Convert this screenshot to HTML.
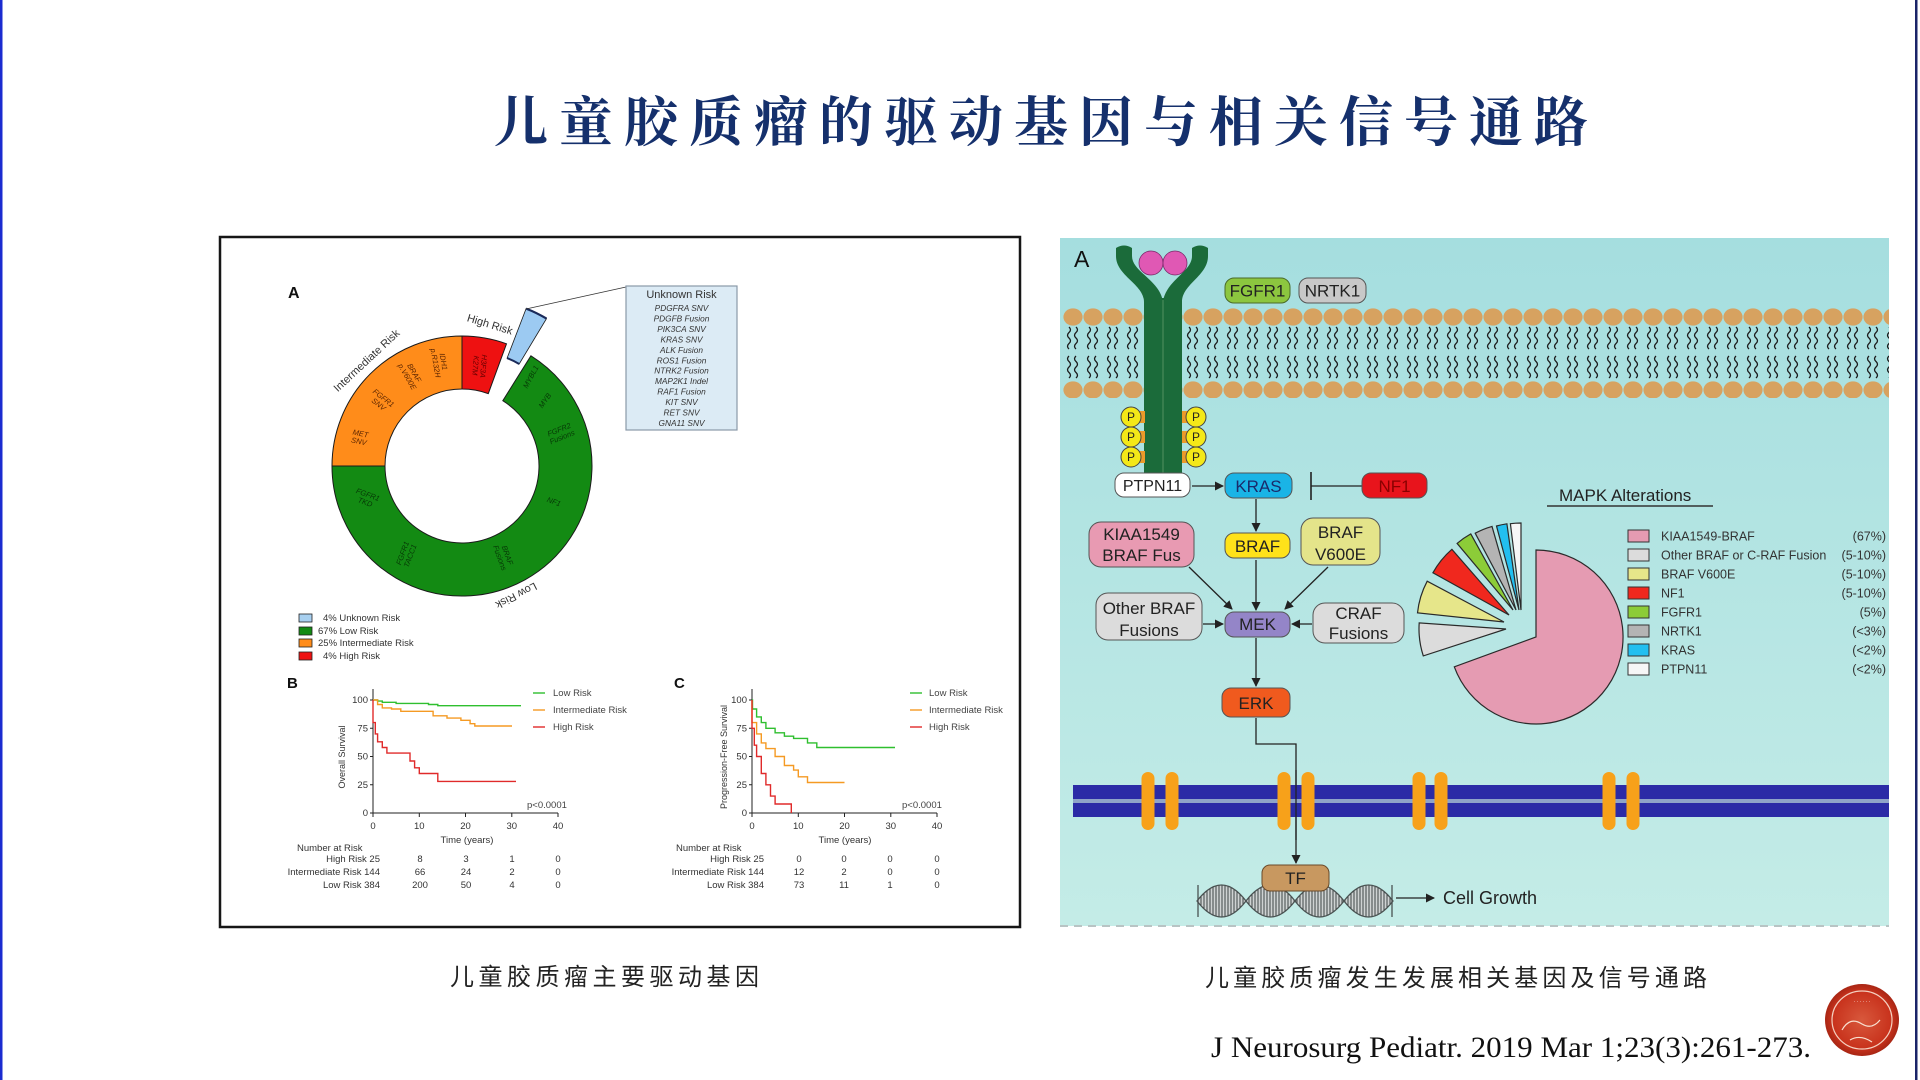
<!DOCTYPE html>
<html>
<head>
<meta charset="utf-8">
<style>
html,body{margin:0;padding:0;background:#fff;}
body{width:1920px;height:1080px;overflow:hidden;position:relative;}
svg{position:absolute;left:0;top:0;}
</style>
</head>
<body>
<svg width="1920" height="1080" viewBox="0 0 1920 1080" xmlns="http://www.w3.org/2000/svg" font-family="'Liberation Sans', Arial, sans-serif">
<defs>
  <linearGradient id="bg" x1="0" y1="0" x2="0" y2="1">
    <stop offset="0" stop-color="#a5dedf"/>
    <stop offset="1" stop-color="#c4ece7"/>
  </linearGradient>
  <marker id="ah" markerWidth="9" markerHeight="9" refX="8" refY="4.5" orient="auto" markerUnits="userSpaceOnUse">
    <path d="M0,0 L9,4.5 L0,9 Z" fill="#222"/>
  </marker>
  <pattern id="mem" x="1063" y="308" width="20" height="90" patternUnits="userSpaceOnUse">
    <path d="M6,19 q3,2.75 0,5.5 q-3,2.75 0,5.5 q3,2.75 0,5.5 q-3,2.75 0,5.5 M13,19 q3,2.75 0,5.5 q-3,2.75 0,5.5 q3,2.75 0,5.5 q-3,2.75 0,5.5 M6,48 q-3,2.75 0,5.5 q3,2.75 0,5.5 q-3,2.75 0,5.5 q3,2.75 0,5.5 M13,48 q-3,2.75 0,5.5 q3,2.75 0,5.5 q-3,2.75 0,5.5 q3,2.75 0,5.5" stroke="#1a1a1a" stroke-width="1.3" fill="none"/>
    <ellipse cx="10" cy="9" rx="9.6" ry="8.6" fill="#d7a260"/>
    <ellipse cx="10" cy="82" rx="9.6" ry="8.6" fill="#d7a260"/>
  </pattern>
  <pattern id="hatch" x="0" y="0" width="3" height="10" patternUnits="userSpaceOnUse">
    <rect width="3" height="10" fill="#cfd3d3"/>
    <line x1="1" y1="0" x2="1" y2="10" stroke="#3c4444" stroke-width="1"/>
  </pattern>
  <radialGradient id="seal" cx="0.5" cy="0.5" r="0.5">
    <stop offset="0" stop-color="#d8583c"/>
    <stop offset="0.8" stop-color="#c8321c"/>
    <stop offset="1" stop-color="#a82614"/>
  </radialGradient>
</defs>

<!-- page edges -->
<rect x="0" y="0" width="2.5" height="1080" fill="#1b2bd0"/>
<rect x="1915" y="0" width="2.5" height="1080" fill="#1a2468"/>

<!-- Title -->
<text x="1041" y="141" text-anchor="middle" font-family="'Liberation Serif','Noto Serif CJK SC',serif" font-weight="700" font-size="54" fill="#15306c" textLength="1094" lengthAdjust="spacing">儿童胶质瘤的驱动基因与相关信号通路</text>

<!-- ================= LEFT PANEL ================= -->
<rect x="220" y="237" width="800" height="690" fill="#fff" stroke="#161616" stroke-width="2.5"/>
<text x="288" y="298" font-size="16" font-weight="700" fill="#111">A</text>

<!-- donut -->
<g stroke="#1a1a1a" stroke-width="1">
  <path d="M332,466 A130,130 0 0 1 462,336 L462,389 A77,77 0 0 0 385,466 Z" fill="#ff8c1a"/>
  <path d="M462,336 A130,130 0 0 1 506.5,343.8 L488.3,393.6 A77,77 0 0 0 462,389 Z" fill="#ee1111"/>
  <path d="M530.9,355.8 A130,130 0 1 1 332,466 L385,466 A77,77 0 1 0 502.8,400.7 Z" fill="#138a13"/>
  <path d="M526.1,308.6 A130,130 0 0 1 546.5,318.6 L519.2,364 A77,77 0 0 0 507.1,358.1 Z" fill="#9ccaf2" stroke-width="0.8"/>
</g>
<path d="M526.1,308.6 A130,130 0 0 1 546.5,318.6" stroke="#1a2a5a" stroke-width="2.2" fill="none"/>
<path d="M519.2,364 A77,77 0 0 0 507.1,358.1" stroke="#1a2a5a" stroke-width="2" fill="none"/>
<line x1="526" y1="309" x2="626" y2="287" stroke="#333" stroke-width="0.8"/>

<!-- donut outside labels -->
<text x="367" y="364" font-size="11" fill="#333" text-anchor="middle" transform="rotate(-43 367 361)">Intermediate Risk</text>
<text x="490" y="328" font-size="11" fill="#333" text-anchor="middle" transform="rotate(17 490 324)">High Risk</text>
<text x="516" y="598" font-size="11" fill="#333" text-anchor="middle" transform="rotate(153 516 595)">Low Risk</text>

<!-- segment labels -->
<g font-size="7.5" text-anchor="middle" font-style="italic">
  <text transform="translate(360,436) rotate(12)" fill="#5a2400"><tspan x="0" y="0">MET</tspan><tspan x="0" y="8">SNV</tspan></text>
  <text transform="translate(382,400) rotate(38)" fill="#5a2400"><tspan x="0" y="0">FGFR1</tspan><tspan x="0" y="8">SNV</tspan></text>
  <text transform="translate(412,374) rotate(60)" fill="#5a2400"><tspan x="0" y="0">BRAF</tspan><tspan x="0" y="8">p.V600E</tspan></text>
  <text transform="translate(441,362) rotate(80)" fill="#5a2400"><tspan x="0" y="0">IDH1</tspan><tspan x="0" y="8">p.R132H</tspan></text>
  <text transform="translate(481,366) rotate(95)" fill="#600"><tspan x="0" y="0">H3F3A</tspan><tspan x="0" y="8">K27M</tspan></text>
  <text transform="translate(533,378) rotate(-62)" fill="#063806">MYBL1</text>
  <text transform="translate(547,402) rotate(-55)" fill="#063806">MYB</text>
  <text transform="translate(560,432) rotate(-22)" fill="#063806"><tspan x="0" y="0">FGFR2</tspan><tspan x="0" y="8">Fusions</tspan></text>
  <text transform="translate(553,504) rotate(20)" fill="#063806">NF1</text>
  <text transform="translate(505,556) rotate(70)" fill="#063806"><tspan x="0" y="0">BRAF</tspan><tspan x="0" y="8">Fusions</tspan></text>
  <text transform="translate(405,554) rotate(-70)" fill="#063806"><tspan x="0" y="0">FGFR1</tspan><tspan x="0" y="8">TACC1</tspan></text>
  <text transform="translate(367,497) rotate(20)" fill="#063806"><tspan x="0" y="0">FGFR1</tspan><tspan x="0" y="8">TKD</tspan></text>
</g>

<!-- Unknown Risk box -->
<rect x="626" y="286" width="111" height="144" fill="#dcebf5" stroke="#8a99a8" stroke-width="1.2"/>
<text x="681.5" y="298" font-size="11" text-anchor="middle" fill="#333">Unknown Risk</text>
<g font-size="8.3" font-style="italic" text-anchor="middle" fill="#333">
  <text x="681.5" y="311">PDGFRA SNV</text>
  <text x="681.5" y="321.5">PDGFB Fusion</text>
  <text x="681.5" y="332">PIK3CA SNV</text>
  <text x="681.5" y="342.4">KRAS SNV</text>
  <text x="681.5" y="352.8">ALK Fusion</text>
  <text x="681.5" y="363.3">ROS1 Fusion</text>
  <text x="681.5" y="373.7">NTRK2 Fusion</text>
  <text x="681.5" y="384.2">MAP2K1 Indel</text>
  <text x="681.5" y="394.6">RAF1 Fusion</text>
  <text x="681.5" y="405">KIT SNV</text>
  <text x="681.5" y="415.5">RET SNV</text>
  <text x="681.5" y="426">GNA11 SNV</text>
</g>

<!-- donut legend -->
<g stroke="#222" stroke-width="0.8">
  <rect x="299" y="614" width="13" height="8" fill="#a8d0f0"/>
  <rect x="299" y="627" width="13" height="8" fill="#138a13"/>
  <rect x="299" y="639" width="13" height="8" fill="#ff8c1a"/>
  <rect x="299" y="652" width="13" height="8" fill="#ee1111"/>
</g>
<g font-size="9.5" fill="#333">
  <text x="323" y="621">4% Unknown Risk</text>
  <text x="318" y="634">67% Low Risk</text>
  <text x="318" y="646">25% Intermediate Risk</text>
  <text x="323" y="659">4% High Risk</text>
</g>

<!-- ===== Plot B ===== -->
<text x="287" y="688" font-size="15" font-weight="700" fill="#111">B</text>
<g stroke="#222" stroke-width="1" fill="none">
  <path d="M373,689 V813 H558"/>
  <path d="M370,700 H373 M370,728.3 H373 M370,756.5 H373 M370,784.8 H373 M370,813 H373"/>
  <path d="M373,813 V817 M419.3,813 V817 M465.5,813 V817 M511.8,813 V817 M558,813 V817"/>
</g>
<g font-size="9.5" fill="#333" text-anchor="end">
  <text x="368" y="703">100</text><text x="368" y="731.5">75</text><text x="368" y="759.5">50</text><text x="368" y="788">25</text><text x="368" y="816">0</text>
</g>
<g font-size="9.5" fill="#333" text-anchor="middle">
  <text x="373" y="829">0</text><text x="419.3" y="829">10</text><text x="465.5" y="829">20</text><text x="511.8" y="829">30</text><text x="558" y="829">40</text>
  <text x="467" y="843">Time (years)</text>
</g>
<text x="0" y="0" font-size="9" fill="#333" text-anchor="middle" transform="translate(345,757) rotate(-90)">Overall Survival</text>
<g fill="none" stroke-width="1.4">
  <path d="M373,700 H377.6 V701.1 H382.3 V702.3 H396.1 V703.4 H428.5 V704.5 H437.8 V705.7 H521" stroke="#2fbf2f"/>
  <path d="M373,700 H377.6 V704.5 H382.3 V707.9 H391.5 V709 H400.8 V711.3 H433.1 V715.8 H447 V718.1 H460.9 V720.3 H470.1 V723.7 H474.8 V726 H512" stroke="#f59a23"/>
  <path d="M373,700 V722.6 H375.3 V733.9 H377.6 V741.8 H382.3 V747.5 H386.9 V753.1 H410 V761 H414.6 V767.8 H419.3 V773.5 H437.8 V781.4 H516" stroke="#e02a2a"/>
</g>
<g stroke-width="1.4">
  <line x1="533" y1="693" x2="545" y2="693" stroke="#2fbf2f"/>
  <line x1="533" y1="710" x2="545" y2="710" stroke="#f59a23"/>
  <line x1="533" y1="727" x2="545" y2="727" stroke="#e02a2a"/>
</g>
<g font-size="9.5" fill="#444">
  <text x="553" y="696">Low Risk</text>
  <text x="553" y="713">Intermediate Risk</text>
  <text x="553" y="730">High Risk</text>
  <text x="527" y="808">p&lt;0.0001</text>
</g>
<g font-size="9.5" fill="#333">
  <text x="297" y="851">Number at Risk</text>
  <text x="380" y="862" text-anchor="end">High Risk 25</text>
  <text x="380" y="875" text-anchor="end">Intermediate Risk 144</text>
  <text x="380" y="888" text-anchor="end">Low Risk 384</text>
</g>
<g font-size="9.5" fill="#333" text-anchor="middle">
  <text x="420" y="862">8</text><text x="466" y="862">3</text><text x="512" y="862">1</text><text x="558" y="862">0</text>
  <text x="420" y="875">66</text><text x="466" y="875">24</text><text x="512" y="875">2</text><text x="558" y="875">0</text>
  <text x="420" y="888">200</text><text x="466" y="888">50</text><text x="512" y="888">4</text><text x="558" y="888">0</text>
</g>

<!-- ===== Plot C ===== -->
<text x="674" y="688" font-size="15" font-weight="700" fill="#111">C</text>
<g stroke="#222" stroke-width="1" fill="none">
  <path d="M752,689 V813 H937"/>
  <path d="M749,700 H752 M749,728.3 H752 M749,756.5 H752 M749,784.8 H752 M749,813 H752"/>
  <path d="M752,813 V817 M798.3,813 V817 M844.5,813 V817 M890.8,813 V817 M937,813 V817"/>
</g>
<g font-size="9.5" fill="#333" text-anchor="end">
  <text x="747" y="703">100</text><text x="747" y="731.5">75</text><text x="747" y="759.5">50</text><text x="747" y="788">25</text><text x="747" y="816">0</text>
</g>
<g font-size="9.5" fill="#333" text-anchor="middle">
  <text x="752" y="829">0</text><text x="798.3" y="829">10</text><text x="844.5" y="829">20</text><text x="890.8" y="829">30</text><text x="937" y="829">40</text>
  <text x="845" y="843">Time (years)</text>
</g>
<text x="0" y="0" font-size="9" fill="#333" text-anchor="middle" transform="translate(727,757) rotate(-90)">Progression-Free Survival</text>
<g fill="none" stroke-width="1.4">
  <path d="M752,700 H752.5 V709 H756.6 V716.9 H761.3 V722.6 H765.9 V728.3 H775.1 V732.8 H784.4 V736.2 H793.6 V738.4 H807.5 V742.9 H816.8 V747.5 H895" stroke="#2fbf2f"/>
  <path d="M752,700 V722.6 H756.6 V733.9 H761.3 V742.9 H765.9 V748.6 H775.1 V756.5 H784.4 V765.5 H793.6 V770.1 H798.3 V776.8 H807.5 V782.5 H844.5" stroke="#f59a23"/>
  <path d="M752,700 V728.3 H754.3 V745.2 H756.6 V756.5 H761.3 V773.5 H765.9 V784.8 H770.5 V796.1 H775.1 V804 H791.3 V813" stroke="#e02a2a"/>
</g>
<g stroke-width="1.4">
  <line x1="910" y1="693" x2="922" y2="693" stroke="#2fbf2f"/>
  <line x1="910" y1="710" x2="922" y2="710" stroke="#f59a23"/>
  <line x1="910" y1="727" x2="922" y2="727" stroke="#e02a2a"/>
</g>
<g font-size="9.5" fill="#444">
  <text x="929" y="696">Low Risk</text>
  <text x="929" y="713">Intermediate Risk</text>
  <text x="929" y="730">High Risk</text>
  <text x="902" y="808">p&lt;0.0001</text>
</g>
<g font-size="9.5" fill="#333">
  <text x="676" y="851">Number at Risk</text>
  <text x="764" y="862" text-anchor="end">High Risk 25</text>
  <text x="764" y="875" text-anchor="end">Intermediate Risk 144</text>
  <text x="764" y="888" text-anchor="end">Low Risk 384</text>
</g>
<g font-size="9.5" fill="#333" text-anchor="middle">
  <text x="799" y="862">0</text><text x="844" y="862">0</text><text x="890" y="862">0</text><text x="937" y="862">0</text>
  <text x="799" y="875">12</text><text x="844" y="875">2</text><text x="890" y="875">0</text><text x="937" y="875">0</text>
  <text x="799" y="888">73</text><text x="844" y="888">11</text><text x="890" y="888">1</text><text x="937" y="888">0</text>
</g>

<!-- caption left -->
<text x="450" y="985" font-family="'Liberation Sans','Noto Sans CJK SC',sans-serif" font-size="24" fill="#222" textLength="309" lengthAdjust="spacing">儿童胶质瘤主要驱动基因</text>

<!-- ================= RIGHT PANEL ================= -->
<rect x="1060" y="238" width="829" height="688" fill="url(#bg)"/>
<line x1="1060" y1="926" x2="1889" y2="926" stroke="#b8c4c4" stroke-width="2" stroke-dasharray="8,6"/>
<text x="1074" y="267" font-size="23" fill="#111">A</text>

<!-- membrane -->
<rect x="1063" y="308" width="826" height="90" fill="url(#mem)"/>

<!-- receptor -->
<g fill="#1b6b3a">
  <rect x="1144" y="298" width="38" height="178"/>
  <path d="M1144,302 C1144,284 1116,276 1116,256 L1116,248 Q1124,243 1132,248 L1132,256 C1132,272 1160,280 1163,302 Z"/>
  <path d="M1182,302 C1182,284 1208,276 1208,256 L1208,248 Q1200,243 1192,248 L1192,256 C1192,272 1166,280 1163,302 Z"/>
</g>
<line x1="1163" y1="300" x2="1163" y2="476" stroke="#4a8a5a" stroke-width="1.2"/>
<circle cx="1151" cy="263" r="12" fill="#e058b4" stroke="#7a2a6a" stroke-width="0.8"/>
<circle cx="1175" cy="263" r="12" fill="#e058b4" stroke="#7a2a6a" stroke-width="0.8"/>

<!-- phosphates -->
<g fill="#eb9a2a">
  <rect x="1139" y="411" width="6" height="12"/><rect x="1139" y="431" width="6" height="12"/><rect x="1139" y="451" width="6" height="12"/>
  <rect x="1182" y="411" width="6" height="12"/><rect x="1182" y="431" width="6" height="12"/><rect x="1182" y="451" width="6" height="12"/>
</g>
<g fill="#f4e818" stroke="#444" stroke-width="1">
  <circle cx="1131" cy="417" r="10"/><circle cx="1131" cy="437" r="10"/><circle cx="1131" cy="457" r="10"/>
  <circle cx="1196" cy="417" r="10"/><circle cx="1196" cy="437" r="10"/><circle cx="1196" cy="457" r="10"/>
</g>
<g font-size="12" fill="#222" text-anchor="middle">
  <text x="1131" y="421">P</text><text x="1131" y="441">P</text><text x="1131" y="461">P</text>
  <text x="1196" y="421">P</text><text x="1196" y="441">P</text><text x="1196" y="461">P</text>
</g>

<!-- FGFR1 / NRTK1 -->
<rect x="1225" y="278" width="65" height="25" rx="9" fill="#8cc63f" stroke="#4a6a2a"/>
<rect x="1299" y="278" width="67" height="25" rx="9" fill="#c8c8c8" stroke="#555"/>
<g font-size="17" fill="#222" text-anchor="middle">
  <text x="1257.5" y="296.5">FGFR1</text>
  <text x="1332.5" y="296.5">NRTK1</text>
</g>

<!-- pathway arrows -->
<g stroke="#222" stroke-width="1.3" fill="none">
  <line x1="1192" y1="486" x2="1223" y2="486" marker-end="url(#ah)"/>
  <line x1="1362" y1="486" x2="1311" y2="486"/>
  <line x1="1311" y1="472" x2="1311" y2="500" stroke-width="1.6"/>
  <line x1="1256" y1="499" x2="1256" y2="531" marker-end="url(#ah)"/>
  <line x1="1256" y1="560" x2="1256" y2="610" marker-end="url(#ah)"/>
  <line x1="1189" y1="567" x2="1232" y2="609" marker-end="url(#ah)"/>
  <line x1="1328" y1="567" x2="1285" y2="609" marker-end="url(#ah)"/>
  <line x1="1203" y1="624" x2="1223" y2="624" marker-end="url(#ah)"/>
  <line x1="1312" y1="624" x2="1292" y2="624" marker-end="url(#ah)"/>
  <line x1="1256" y1="638" x2="1256" y2="686" marker-end="url(#ah)"/>
  <polyline points="1256,718 1256,744 1296,744 1296,863" marker-end="url(#ah)"/>
  <line x1="1396" y1="898" x2="1434" y2="898" marker-end="url(#ah)"/>
</g>

<!-- pathway boxes -->
<g stroke="#555" stroke-width="1">
  <rect x="1115" y="473" width="75" height="24" rx="9" fill="#ffffff"/>
  <rect x="1225" y="473" width="67" height="25" rx="9" fill="#1ab4e6"/>
  <rect x="1362" y="473" width="65" height="25" rx="9" fill="#e8141c"/>
  <rect x="1225" y="533" width="65" height="25" rx="9" fill="#ffe21a"/>
  <rect x="1301" y="518" width="79" height="47" rx="12" fill="#e4e48a"/>
  <rect x="1089" y="522" width="105" height="45" rx="12" fill="#e89ab2"/>
  <rect x="1096" y="593" width="106" height="47" rx="12" fill="#dcdcdc"/>
  <rect x="1225" y="612" width="65" height="25" rx="9" fill="#9485c8"/>
  <rect x="1313" y="603" width="91" height="40" rx="12" fill="#dcdcdc"/>
  <rect x="1222" y="688" width="68" height="29" rx="9" fill="#f05a1e"/>
</g>
<g font-size="17" fill="#222" text-anchor="middle">
  <text x="1152.5" y="491" font-size="16">PTPN11</text>
  <text x="1258.5" y="492" fill="#1a2a6a">KRAS</text>
  <text x="1394.5" y="492" fill="#8a0000">NF1</text>
  <text x="1257.5" y="552">BRAF</text>
  <text x="1340.5" y="538">BRAF</text>
  <text x="1340.5" y="560">V600E</text>
  <text x="1141.5" y="540">KIAA1549</text>
  <text x="1141.5" y="561">BRAF Fus</text>
  <text x="1149" y="614">Other BRAF</text>
  <text x="1149" y="636">Fusions</text>
  <text x="1257.5" y="630">MEK</text>
  <text x="1358.5" y="619">CRAF</text>
  <text x="1358.5" y="639">Fusions</text>
  <text x="1256" y="709">ERK</text>
</g>

<!-- MAPK pie -->
<g stroke="#2a2a2a" stroke-width="1.2">
  <path d="M1536,637 L1536,550 A87,87 0 1 1 1454.3,666.8 Z" fill="#e59bb2"/>
  <path d="M1506,629 L1423.3,655.9 A87,87 0 0 1 1419.2,622.9 Z" fill="#dcdcdc"/>
  <path d="M1504,622 L1417.5,612.9 A87,87 0 0 1 1427.2,581.2 Z" fill="#e6e68a"/>
  <path d="M1509,615 L1432.9,572.8 A87,87 0 0 1 1451.9,549.3 Z" fill="#f0281e"/>
  <path d="M1513,610 L1457.1,543.4 A87,87 0 0 1 1470.8,533.9 Z" fill="#8ccc38"/>
  <path d="M1516,610 L1475.2,533.2 A87,87 0 0 1 1492,526.4 Z" fill="#b4b4b4"/>
  <path d="M1519,610 L1496.5,526 A87,87 0 0 1 1506.9,523.8 Z" fill="#22bff0"/>
  <path d="M1521,610 L1510.4,523.7 A87,87 0 0 1 1521,523 Z" fill="#f6f6f6"/>
</g>
<text x="1559" y="501" font-size="17" fill="#222">MAPK Alterations</text>
<line x1="1547" y1="506" x2="1713" y2="506" stroke="#333" stroke-width="1.6"/>
<g stroke="#333" stroke-width="1">
  <rect x="1628" y="530" width="21" height="12" fill="#e59bb2"/>
  <rect x="1628" y="549" width="21" height="12" fill="#dcdcdc"/>
  <rect x="1628" y="568" width="21" height="12" fill="#e6e68a"/>
  <rect x="1628" y="587" width="21" height="12" fill="#f0281e"/>
  <rect x="1628" y="606" width="21" height="12" fill="#8ccc38"/>
  <rect x="1628" y="625" width="21" height="12" fill="#b4b4b4"/>
  <rect x="1628" y="644" width="21" height="12" fill="#22bff0"/>
  <rect x="1628" y="663" width="21" height="12" fill="#f6f6f6"/>
</g>
<g font-size="12.5" fill="#333">
  <text x="1661" y="540.5">KIAA1549-BRAF</text>
  <text x="1661" y="559.5">Other BRAF or C-RAF Fusion</text>
  <text x="1661" y="578.5">BRAF V600E</text>
  <text x="1661" y="597.5">NF1</text>
  <text x="1661" y="616.5">FGFR1</text>
  <text x="1661" y="635.5">NRTK1</text>
  <text x="1661" y="654.5">KRAS</text>
  <text x="1661" y="673.5">PTPN11</text>
</g>
<g font-size="12.5" fill="#333" text-anchor="end">
  <text x="1886" y="540.5">(67%)</text>
  <text x="1886" y="559.5">(5-10%)</text>
  <text x="1886" y="578.5">(5-10%)</text>
  <text x="1886" y="597.5">(5-10%)</text>
  <text x="1886" y="616.5">(5%)</text>
  <text x="1886" y="635.5">(&lt;3%)</text>
  <text x="1886" y="654.5">(&lt;2%)</text>
  <text x="1886" y="673.5">(&lt;2%)</text>
</g>

<!-- nuclear membrane -->
<rect x="1073" y="785" width="816" height="14" fill="#2b2ba6"/>
<rect x="1073" y="799" width="816" height="4" fill="#8fa4c8"/>
<rect x="1073" y="803" width="816" height="14" fill="#2b2ba6"/>
<g fill="#f7a11a">
  <rect x="1141.5" y="772" width="13" height="58" rx="6.5"/>
  <rect x="1165.5" y="772" width="13" height="58" rx="6.5"/>
  <rect x="1277.5" y="772" width="13" height="58" rx="6.5"/>
  <rect x="1301.5" y="772" width="13" height="58" rx="6.5"/>
  <rect x="1412.5" y="772" width="13" height="58" rx="6.5"/>
  <rect x="1434.5" y="772" width="13" height="58" rx="6.5"/>
  <rect x="1602.5" y="772" width="13" height="58" rx="6.5"/>
  <rect x="1626.5" y="772" width="13" height="58" rx="6.5"/>
</g>
<line x1="1296" y1="770" x2="1296" y2="840" stroke="#222" stroke-width="1.3"/>

<!-- DNA -->
<g fill="url(#hatch)" stroke="#4a5252" stroke-width="1.3">
  <path d="M1197,901 Q1221.5,869 1246,901 Q1221.5,933 1197,901 Z"/>
  <path d="M1246,901 Q1270.5,869 1295,901 Q1270.5,933 1246,901 Z"/>
  <path d="M1295,901 Q1319.5,869 1344,901 Q1319.5,933 1295,901 Z"/>
  <path d="M1344,901 Q1368.5,869 1393,901 Q1368.5,933 1344,901 Z"/>
</g>
<line x1="1198" y1="885" x2="1198" y2="917" stroke="#4a5252" stroke-width="1.3"/>
<line x1="1392" y1="885" x2="1392" y2="917" stroke="#4a5252" stroke-width="1.3"/>
<rect x="1262" y="865" width="67" height="26" rx="8" fill="#c89860" stroke="#6a4a2a" stroke-width="1"/>
<text x="1295.5" y="884" font-size="17" fill="#222" text-anchor="middle">TF</text>
<text x="1443" y="904" font-size="18" fill="#222">Cell Growth</text>

<!-- caption right -->
<text x="1205" y="986" font-family="'Liberation Sans','Noto Sans CJK SC',sans-serif" font-size="24" fill="#222" textLength="502" lengthAdjust="spacing">儿童胶质瘤发生发展相关基因及信号通路</text>

<!-- citation -->
<text x="1211" y="1057" font-family="'Liberation Serif', serif" font-size="30" fill="#111" textLength="600" lengthAdjust="spacingAndGlyphs">J Neurosurg Pediatr. 2019 Mar 1;23(3):261-273.</text>

<!-- seal logo -->
<ellipse cx="1862" cy="1020" rx="37" ry="36" fill="url(#seal)"/>
<ellipse cx="1862" cy="1020" rx="30" ry="29" fill="none" stroke="#f4d0c0" stroke-width="1.2"/>
<path d="M1842,1030 q8,-14 20,-6 q10,6 18,-4 M1850,1040 q10,-6 22,2" stroke="#f8e0d0" stroke-width="1.2" fill="none"/>
<g font-size="5" fill="#fff" text-anchor="middle">
  <text x="1862" y="1003">· · · · · ·</text>
</g>
</svg>
</body>
</html>
